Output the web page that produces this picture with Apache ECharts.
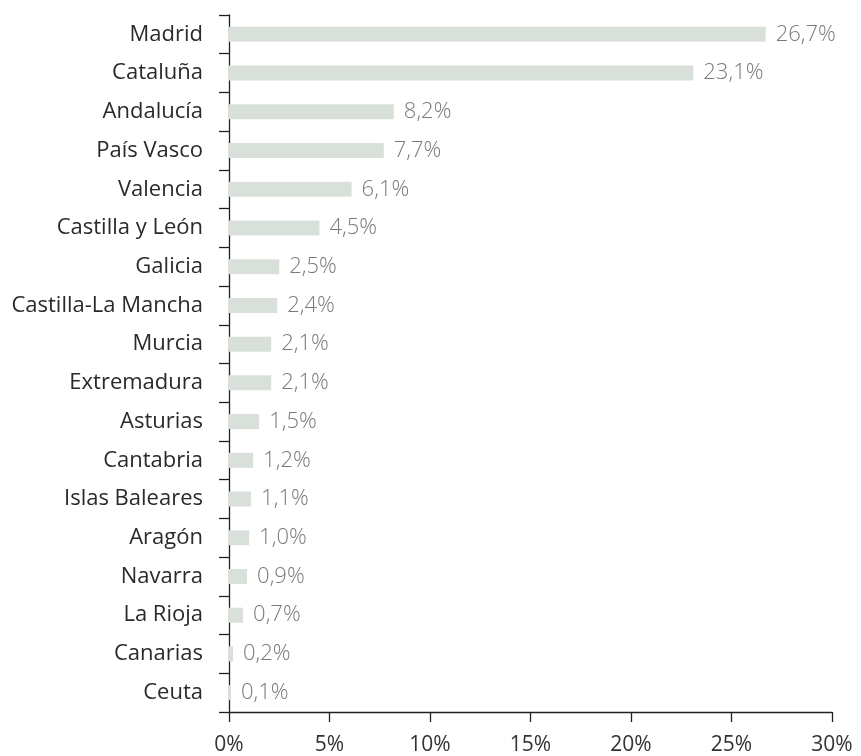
<!DOCTYPE html>
<html><head><meta charset="utf-8">
<script src="https://cdn.jsdelivr.net/npm/echarts@6/dist/echarts.min.js"></script>
<style>html,body{margin:0;padding:0;background:#fff}#c{width:861px;height:756px}</style>
</head><body><div id="c"></div>
<script>
const categories = ["Madrid","Cataluña","Andalucía","País Vasco","Valencia","Castilla y León","Galicia","Castilla-La Mancha","Murcia","Extremadura","Asturias","Cantabria","Islas Baleares","Aragón","Navarra","La Rioja","Canarias","Ceuta"];
const values = [26.7,23.1,8.2,7.7,6.1,4.5,2.5,2.4,2.1,2.1,1.5,1.2,1.1,1.0,0.9,0.7,0.2,0.1];
const xTicks = [0,5,10,15,20,25,30];

const FONT = 'Open Sans';
const chart = echarts.init(document.getElementById('c'));
chart.setOption({
  animation:false,
  grid:{left:229,right:29,top:15,bottom:41,containLabel:false},
  xAxis:{type:'value',min:xTicks[0],max:xTicks[xTicks.length-1],interval:5,
    axisLine:{show:true,lineStyle:{color:'#222',width:1.3}},
    axisTick:{show:true,length:10,lineStyle:{color:'#222',width:1.3}},
    splitLine:{show:false},
    axisLabel:{margin:23,fontFamily:FONT,fontSize:21,fontWeight:400,color:'#333',formatter:v=>v+'%'}
  },
  yAxis:{type:'category',data:categories,inverse:true,
    axisLine:{show:true,lineStyle:{color:'#222',width:1.3}},
    axisTick:{show:true,length:10,lineStyle:{color:'#222',width:1.3}},
    axisLabel:{margin:26,fontFamily:FONT,fontSize:22,fontWeight:400,color:'#2a2a2a'}
  },
  series:[{type:'bar',data:values,barWidth:15,
    itemStyle:{color:'#d9e0da'},
    label:{show:true,position:'right',distance:10,fontFamily:FONT,fontSize:22,fontWeight:300,color:'#7a7a7a',
      formatter:p=>p.value.toFixed(1).replace('.',',')+'%'}
  }]
});
</script></body></html>
